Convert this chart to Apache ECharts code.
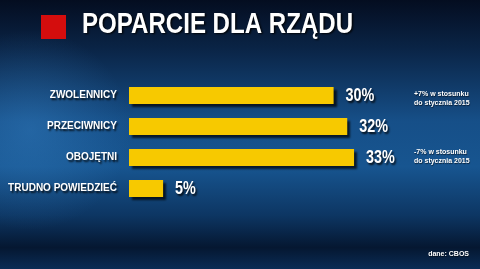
<!DOCTYPE html>
<html>
<head>
<meta charset="utf-8">
<script src="https://cdn.jsdelivr.net/npm/echarts@6/dist/echarts.min.js"></script>
<style>html,body{margin:0;padding:0;background:#0b2448;}#c{width:480px;height:269px;}</style>
</head>
<body>
<div id="c"></div>
<script>
var title = 'POPARCIE DLA RZĄDU';
var categories = ['ZWOLENNICY', 'PRZECIWNICY', 'OBOJĘTNI', 'TRUDNO POWIEDZIEĆ'];
var values = [30, 32, 33, 5];
var notes = ['+7% w stosunku\ndo stycznia 2015', '', '-7% w stosunku\ndo stycznia 2015', ''];
var source = 'dane: CBOS';

var chart = echarts.init(document.getElementById('c'), null, {renderer: 'canvas'});
var sans = "'Liberation Sans', Arial, sans-serif";
var shadowTxt = {textShadowColor: 'rgba(0,0,0,0.85)', textShadowBlur: 2, textShadowOffsetX: 1.5, textShadowOffsetY: 1.5};

var noteGraphics = [];
var noteY = [94, 0, 152, 0];
notes.forEach(function (n, i) {
  if (!n) return;
  noteGraphics.push({
    type: 'text', left: 414, top: noteY[i] - 4,
    style: {text: n, fill: '#ffffff', font: "bold 7px " + sans, lineHeight: 9,
      textShadowColor: 'rgba(0,0,0,0.6)', textShadowBlur: 1, textShadowOffsetX: 0.5, textShadowOffsetY: 0.5}
  });
});

var option = {
  backgroundColor: {
    type: 'linear', x: 0, y: 0, x2: 0, y2: 1,
    colorStops: [
      {offset: 0, color: '#040d20'},
      {offset: 0.18, color: '#0a2446'},
      {offset: 0.45, color: '#164f88'},
      {offset: 0.62, color: '#175590'},
      {offset: 0.8, color: '#0d3663'},
      {offset: 0.92, color: '#051731'},
      {offset: 1, color: '#0a2c55'}
    ]
  },
  animation: false,
  graphic: [
    {
      type: 'rect', left: -120, top: 30, z: -1, silent: true,
      shape: {width: 300, height: 200},
      style: {fill: {type: 'radial', x: 0.5, y: 0.5, r: 0.5, colorStops: [
        {offset: 0, color: 'rgba(60,140,210,0.35)'},
        {offset: 1, color: 'rgba(60,140,210,0)'}]}}
    },
    {type: 'rect', left: 41, top: 15, shape: {width: 25, height: 24}, style: {fill: '#d40d0d'}},
    {type: 'text', left: 82, top: 10, scaleX: 0.83,
      style: Object.assign({text: title, fill: '#ffffff', font: "bold 29px " + sans}, shadowTxt)},
    {type: 'text', right: 11, top: 251,
      style: {text: source, fill: '#ffffff', font: "bold 7px " + sans,
        textShadowColor: 'rgba(0,0,0,0.6)', textShadowBlur: 1, textShadowOffsetX: 0.5, textShadowOffsetY: 0.5}}
  ].concat(noteGraphics),
  grid: {left: 129, right: 10, top: 80, height: 124, outerBoundsMode: 'none', containLabel: false},
  xAxis: {type: 'value', min: 0, max: 50, show: false},
  yAxis: {
    type: 'category', data: categories, inverse: true,
    axisLine: {show: false}, axisTick: {show: false},
    axisLabel: Object.assign({color: '#ffffff', fontWeight: 'bold', fontSize: 10,
      fontFamily: sans, margin: 12}, shadowTxt)
  },
  series: [{
    type: 'bar', data: values, barWidth: 17,
    itemStyle: {color: '#f7c900', shadowColor: 'rgba(0,0,0,0.7)', shadowBlur: 2, shadowOffsetX: 3, shadowOffsetY: 3}
  }, {
    type: 'custom', data: values.map(function (v, i) { return [v, i]; }),
    encode: {x: 0, y: 1},
    renderItem: function (params, api) {
      var p = api.coord([api.value(0), api.value(1)]);
      return {
        type: 'text', x: p[0] + 12, y: p[1] + 1, scaleX: 0.8,
        style: Object.assign({text: api.value(0) + '%', fill: '#ffffff', font: "bold 18px " + sans,
          verticalAlign: 'middle', align: 'left'}, shadowTxt)
      };
    }
  }]
};
chart.setOption(option);
</script>
</body>
</html>
